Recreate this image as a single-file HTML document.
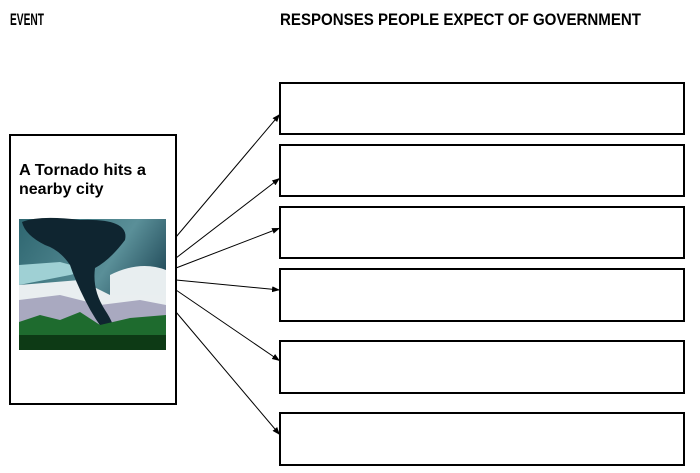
<!DOCTYPE html>
<html><head><style>body{margin:0;background:#fff}svg{display:block}</style></head>
<body>
<svg width="700" height="473" xmlns="http://www.w3.org/2000/svg" font-family="Liberation Sans, sans-serif">
<defs>
<marker id="a" markerWidth="8" markerHeight="6" refX="8" refY="3" orient="auto" markerUnits="userSpaceOnUse"><path d="M0,0 L8,3 L0,6 z" fill="#000"/></marker>
<linearGradient id="sky" x1="0" y1="0" x2="1" y2="0.6"><stop offset="0" stop-color="#2e6670"/><stop offset="0.6" stop-color="#5a8f98"/><stop offset="1" stop-color="#153c4c"/></linearGradient>
</defs>
<text x="10" y="25" font-size="17" font-weight="bold" textLength="34" lengthAdjust="spacingAndGlyphs">EVENT</text>
<text x="280" y="25" font-size="17" font-weight="bold" textLength="361" lengthAdjust="spacingAndGlyphs">RESPONSES PEOPLE EXPECT OF GOVERNMENT</text>
<rect x="10" y="135" width="166" height="269" fill="#fff" stroke="#000" stroke-width="2"/>
<text x="19" y="175" font-size="16" font-weight="bold" textLength="127" lengthAdjust="spacingAndGlyphs">A Tornado hits a</text>
<text x="19" y="194" font-size="16" font-weight="bold">nearby city</text>
<g>
<rect x="19" y="219" width="147" height="131" fill="url(#sky)"/>
<path d="M19,265 L60,262 L90,270 L70,275 L19,285 z" fill="#9fd0d4"/>
<path d="M110,275 Q140,260 166,270 L166,300 L110,300 z" fill="#e8eef0"/>
<path d="M19,285 L80,280 L110,295 L166,295 L166,320 L19,320 z" fill="#e9eef0"/>
<path d="M19,300 L60,295 L100,305 L140,300 L166,305 L166,330 L19,330 z" fill="#a9a9c0"/>
<path d="M22,222 Q40,215 80,220 Q130,218 125,240 Q110,260 95,268 Q92,290 105,310 Q115,325 115,335 L108,336 Q95,320 85,300 Q75,280 70,265 Q60,250 45,245 Q25,235 22,222 z" fill="#0f2530"/>
<path d="M19,322 L40,315 L60,320 L80,312 L100,325 L130,318 L166,315 L166,350 L19,350 z" fill="#1e6b2e"/>
<path d="M19,335 L166,335 L166,350 L19,350 z" fill="#0d3a15"/>
</g>
<g fill="#fff" stroke="#000" stroke-width="2">
<rect x="280" y="83" width="404" height="51"/>
<rect x="280" y="145" width="404" height="51"/>
<rect x="280" y="207" width="404" height="51"/>
<rect x="280" y="269" width="404" height="52"/>
<rect x="280" y="341" width="404" height="52"/>
<rect x="280" y="413" width="404" height="52"/>
</g>
<g stroke="#000" stroke-width="1" marker-end="url(#a)">
<line x1="176" y1="237" x2="280" y2="114"/>
<line x1="176" y1="258" x2="280" y2="178"/>
<line x1="176" y1="268" x2="280" y2="228"/>
<line x1="176" y1="280" x2="280" y2="290"/>
<line x1="176" y1="290" x2="280" y2="361"/>
<line x1="176" y1="312" x2="280" y2="435"/>
</g>
</svg>
</body></html>
